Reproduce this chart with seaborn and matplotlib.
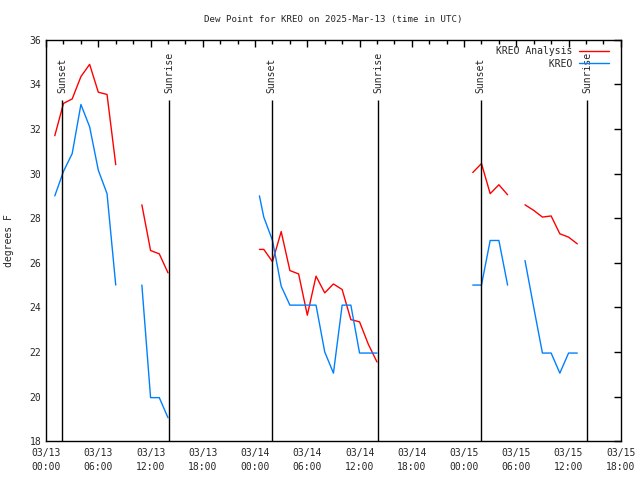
import matplotlib

matplotlib.use("Agg")
import matplotlib.pyplot as plt
import matplotlib.dates as mdates
from matplotlib.lines import Line2D
import pandas as pd
import seaborn as sns

# --- data (dew point, deg F) ---
ana_times = [
    "2025-03-13 01:00", "2025-03-13 02:00", "2025-03-13 03:00", "2025-03-13 04:00",
    "2025-03-13 05:00", "2025-03-13 06:00", "2025-03-13 07:00", "2025-03-13 08:00",
    "2025-03-13 11:00", "2025-03-13 12:00", "2025-03-13 13:00", "2025-03-13 14:00",
    "2025-03-14 00:30", "2025-03-14 01:00", "2025-03-14 02:00", "2025-03-14 03:00",
    "2025-03-14 04:00", "2025-03-14 05:00", "2025-03-14 06:00", "2025-03-14 07:00",
    "2025-03-14 08:00", "2025-03-14 09:00", "2025-03-14 10:00", "2025-03-14 11:00",
    "2025-03-14 12:00", "2025-03-14 13:00", "2025-03-14 14:00",
    "2025-03-15 01:00", "2025-03-15 02:00", "2025-03-15 03:00", "2025-03-15 04:00",
    "2025-03-15 05:00",
    "2025-03-15 07:00", "2025-03-15 08:00", "2025-03-15 09:00", "2025-03-15 10:00",
    "2025-03-15 11:00", "2025-03-15 12:00", "2025-03-15 13:00",
]
ana_vals = [
    31.7, 33.15, 33.35, 34.35, 34.9, 33.65, 33.55, 30.4,
    28.6, 26.55, 26.4, 25.55,
    26.6, 26.6, 26.05, 27.4, 25.65, 25.5, 23.65, 25.4, 24.65, 25.05, 24.8,
    23.45, 23.35, 22.35, 21.55,
    30.05, 30.45, 29.1, 29.5, 29.05,
    28.6, 28.35, 28.05, 28.1, 27.3, 27.15, 26.85,
]
ana_seg = [1] * 8 + [2] * 4 + [3] * 15 + [4] * 5 + [5] * 7

obs_times = [
    "2025-03-13 01:00", "2025-03-13 02:00", "2025-03-13 03:00", "2025-03-13 04:00",
    "2025-03-13 05:00", "2025-03-13 06:00", "2025-03-13 07:00", "2025-03-13 08:00",
    "2025-03-13 11:00", "2025-03-13 12:00", "2025-03-13 13:00", "2025-03-13 14:00",
    "2025-03-14 00:30", "2025-03-14 01:00", "2025-03-14 02:00", "2025-03-14 03:00",
    "2025-03-14 04:00", "2025-03-14 05:00", "2025-03-14 06:00", "2025-03-14 07:00",
    "2025-03-14 08:00", "2025-03-14 09:00", "2025-03-14 10:00", "2025-03-14 11:00",
    "2025-03-14 12:00", "2025-03-14 13:00", "2025-03-14 14:00",
    "2025-03-15 01:00", "2025-03-15 02:00", "2025-03-15 03:00", "2025-03-15 04:00",
    "2025-03-15 05:00",
    "2025-03-15 07:00", "2025-03-15 08:00", "2025-03-15 09:00", "2025-03-15 10:00",
    "2025-03-15 11:00", "2025-03-15 12:00", "2025-03-15 13:00",
]
obs_vals = [
    29.0, 30.1, 30.9, 33.1, 32.1, 30.15, 29.1, 25.0,
    25.0, 19.95, 19.95, 19.05,
    29.0, 28.05, 27.0, 24.95, 24.1, 24.1, 24.1, 24.1, 22.0, 21.05, 24.1,
    24.1, 21.95, 21.95, 21.95,
    25.0, 25.0, 27.0, 27.0, 25.0,
    26.1, 24.0, 21.95, 21.95, 21.05, 21.95, 21.95,
]
obs_seg = [1] * 8 + [2] * 4 + [3] * 15 + [4] * 5 + [5] * 7

sun_times = [
    "2025-03-13 01:52", "2025-03-13 14:09", "2025-03-14 01:54",
    "2025-03-14 14:08", "2025-03-15 01:55", "2025-03-15 14:07",
]
sun_labels = ["Sunset", "Sunrise", "Sunset", "Sunrise", "Sunset", "Sunrise"]

series_names = ["KREO Analysis", "KREO"]
series_colors = ["#ff0000", "#0080ff"]
x_start, x_end = "2025-03-13 00:00", "2025-03-15 18:00"
y_ticks = list(range(18, 37, 2))

df = pd.concat(
    [
        pd.DataFrame({"time": pd.to_datetime(ana_times), "value": ana_vals,
                      "seg": ana_seg, "series": series_names[0]}),
        pd.DataFrame({"time": pd.to_datetime(obs_times), "value": obs_vals,
                      "seg": obs_seg, "series": series_names[1]}),
    ],
    ignore_index=True,
)

FS = 7.0

sns.set_style("white")
plt.rcParams["font.family"] = ["DejaVu Sans Mono", "DejaVu Sans"]
plt.rcParams["font.size"] = FS

fig, ax = plt.subplots(figsize=(6.4, 4.8), dpi=100, facecolor="white")
fig.subplots_adjust(left=0.072, right=0.970, top=0.917, bottom=0.081)

sns.lineplot(
    data=df, x="time", y="value", hue="series", units="seg", estimator=None,
    hue_order=series_names, palette=series_colors, linewidth=1.0, ax=ax,
    legend=False, sort=True,
)

# sunset / sunrise markers
sun_dt = pd.to_datetime(sun_times)
ax.vlines(sun_dt, 18, 33.3, colors="black", linewidth=1.0)
for t, lab in zip(sun_dt, sun_labels):
    ax.text(t, 33.6, lab, rotation=90, ha="center", va="bottom", fontsize=FS)

ax.set_xlim(pd.Timestamp(x_start), pd.Timestamp(x_end))
ax.set_ylim(18, 36)
ax.set_yticks(y_ticks)
ax.xaxis.set_major_locator(mdates.HourLocator(byhour=[0, 6, 12, 18]))
ax.xaxis.set_minor_locator(mdates.HourLocator(byhour=range(0, 24, 2)))
ax.xaxis.set_major_formatter(mdates.DateFormatter("%m/%d\n%H:%M"))
ax.tick_params(axis="both", which="both", direction="in", top=True, right=True,
               labelsize=FS, color="black")
ax.tick_params(axis="both", which="major", length=5, width=1)
ax.tick_params(axis="x", which="major", pad=5)
ax.tick_params(axis="x", which="minor", length=3, width=1)
for sp in ax.spines.values():
    sp.set_color("black")
    sp.set_linewidth(1.0)

ax.set_xlabel("")
ax.set_ylabel("degrees F", fontsize=FS, labelpad=11)
ax.set_title("Dew Point for KREO on 2025-Mar-13 (time in UTC)", fontsize=6.6, pad=13)

handles = [Line2D([], [], color=c, linewidth=1.0) for c in series_colors]
ax.legend(handles, ["KREO Analysis", "         KREO"], loc="upper right",
          bbox_to_anchor=(0.993, 1.004),
          frameon=False, markerfirst=False, handlelength=3.0, fontsize=FS,
          borderaxespad=0.45, labelspacing=0.22, handletextpad=0.7)

fig.canvas.draw()
for lab in ax.get_xticklabels():
    lab.set_linespacing(1.5)

fig.savefig("out.png", dpi=100, facecolor="white")
